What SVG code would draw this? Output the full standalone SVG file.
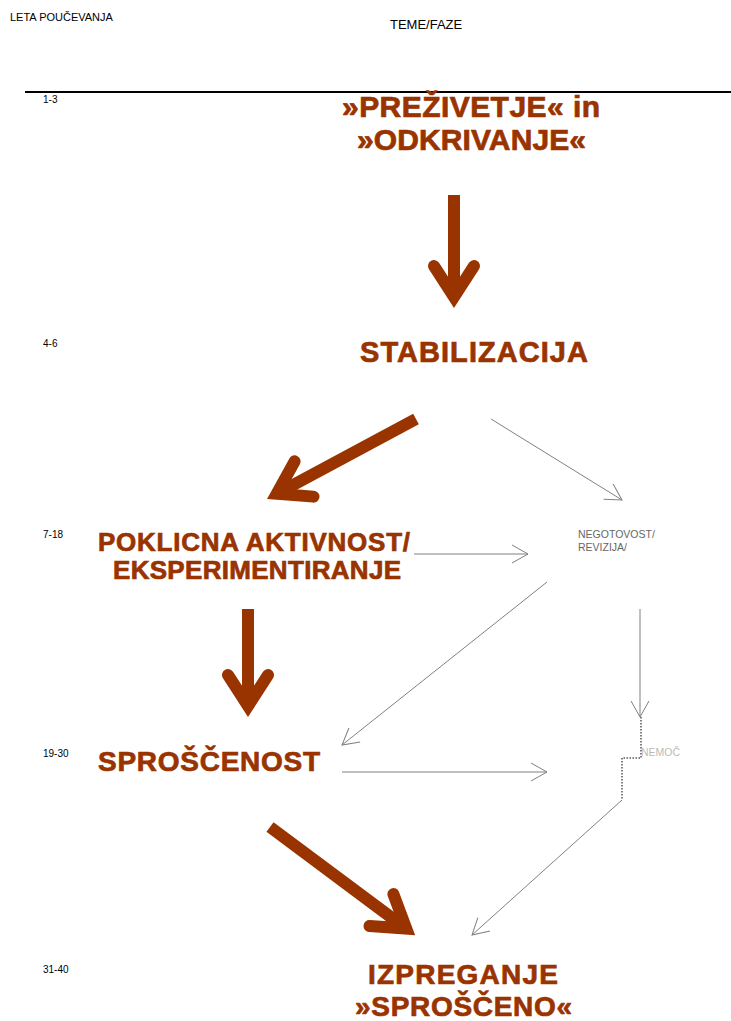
<svg xmlns="http://www.w3.org/2000/svg" width="731" height="1021" viewBox="0 0 731 1021">
<style>
.small{font-family:"Liberation Sans",Arial,sans-serif;font-size:11px;fill:#000}
.yr{font-family:"Liberation Sans",Arial,sans-serif;font-size:10px;fill:#000}
.big{font-family:"Liberation Sans",Arial,sans-serif;font-weight:bold;fill:#993300;stroke:#993300;stroke-width:0.7}
.bigarrow{stroke:#993300;stroke-width:12;fill:none;stroke-linecap:butt}
.bigarrow polyline{stroke-linecap:round;stroke-linejoin:miter;stroke-miterlimit:6}
.conn{stroke:#808080;stroke-width:1;fill:none}
.grey{font-family:"Liberation Sans",Arial,sans-serif;font-size:10.5px;fill:#666}
</style>
<defs>
<marker id="open" markerUnits="userSpaceOnUse" viewBox="0 0 20 20" refX="18" refY="10" markerWidth="20" markerHeight="20" orient="auto">
<path d="M2,1 L18,10 L2,19" fill="none" stroke="#808080" stroke-width="1"/>
</marker>
</defs>
<rect width="731" height="1021" fill="#fff"/>
<g id="header">
<text class="small" x="10" y="21">LETA POUČEVANJA</text>
<text class="small" x="390" y="29" style="font-size:13px">TEME/FAZE</text>
<line x1="25" y1="92" x2="731" y2="92" stroke="#000" stroke-width="2"/>
</g>
<g id="years">
<text class="yr" x="43" y="103">1-3</text>
<text class="yr" x="43" y="347">4-6</text>
<text class="yr" x="43" y="538">7-18</text>
<text class="yr" x="43" y="757">19-30</text>
<text class="yr" x="43" y="973">31-40</text>
</g>
<g id="n_prezivetje">
<text class="big" x="342" y="117" font-size="30" textLength="258" lengthAdjust="spacing">»PREŽIVETJE« in</text>
<text class="big" x="357" y="150" font-size="30" textLength="229" lengthAdjust="spacing">»ODKRIVANJE«</text>
</g>
<g id="n_stabilizacija">
<text class="big" x="360" y="362" font-size="29" textLength="228" lengthAdjust="spacing">STABILIZACIJA</text>
</g>
<g id="n_poklicna">
<text class="big" x="98" y="551" font-size="26" textLength="312" lengthAdjust="spacing">POKLICNA AKTIVNOST/</text>
<text class="big" x="113" y="579" font-size="26" textLength="288" lengthAdjust="spacing">EKSPERIMENTIRANJE</text>
</g>
<g id="n_negotovost">
<text class="grey" x="578" y="538">NEGOTOVOST/</text>
<text class="grey" x="578" y="551">REVIZIJA/</text>
</g>
<g id="n_sproscenost">
<text class="big" x="98" y="771" font-size="28" textLength="222" lengthAdjust="spacing">SPROŠČENOST</text>
</g>
<g id="n_nemoc">
<text class="grey" x="641" y="756" style="fill:#bbb">NEMOČ</text>
</g>
<g id="n_izpreganje">
<text class="big" x="368" y="984" font-size="28" textLength="190" lengthAdjust="spacing">IZPREGANJE</text>
<text class="big" x="355" y="1016" font-size="28" textLength="217" lengthAdjust="spacing">»SPROŠČENO«</text>
</g>
<g id="connectors">
<g class="bigarrow" transform="translate(454 195) rotate(90)">
<line x1="0" y1="0" x2="102" y2="0"/><polyline points="71,-20 102,0 71,20"/>
</g>
<g class="bigarrow" transform="translate(416 419) rotate(151.8)">
<line x1="0" y1="0" x2="158" y2="0"/><polyline points="127,-20 158,0 127,20"/>
</g>
<g class="bigarrow" transform="translate(248 609) rotate(90)">
<line x1="0" y1="0" x2="97" y2="0"/><polyline points="66,-20 97,0 66,20"/>
</g>
<g class="bigarrow" transform="translate(270 827) rotate(36.7)">
<line x1="0" y1="0" x2="170" y2="0"/><polyline points="139,-20 170,0 139,20"/>
</g>
<path class="conn" d="M491,419 L622,500" marker-end="url(#open)"/>
<path class="conn" d="M414,554 L528,554" marker-end="url(#open)"/>
<path class="conn" d="M547,582 L342,745" marker-end="url(#open)"/>
<path class="conn" d="M640,609 L640,717" marker-end="url(#open)"/>
<path class="conn" d="M342,772 L547,772" marker-end="url(#open)"/>
<path d="M641,717 L641,758 L622,758 L622,800" fill="none" stroke="#555" stroke-width="1.5" stroke-dasharray="1.5 1.5"/>
<path class="conn" d="M622,800 L472,935" marker-end="url(#open)"/>
</g>
</svg>
